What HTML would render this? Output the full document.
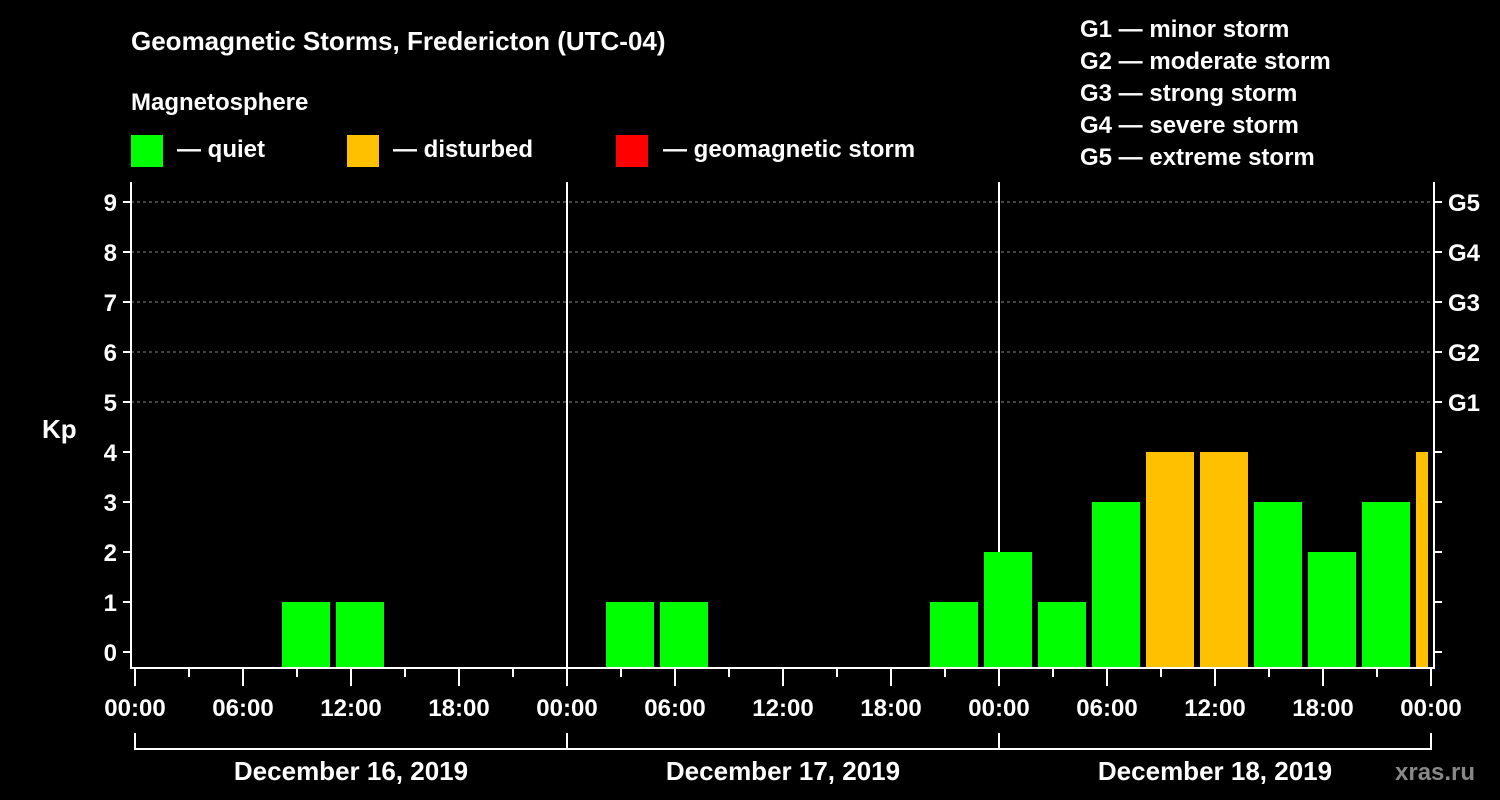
<!DOCTYPE html>
<html><head><meta charset="utf-8"><style>
body{margin:0;background:#000;}
svg{display:block;font-family:"Liberation Sans",Arial,sans-serif;font-weight:bold;}
</style></head><body>
<svg id="chart" width="1500" height="800" viewBox="0 0 1500 800" xmlns="http://www.w3.org/2000/svg">
<rect width="1500" height="800" fill="#000"/>
<text x="131" y="50" fill="#fff" font-size="26">Geomagnetic Storms, Fredericton (UTC-04)</text>
<text x="131" y="110" fill="#fff" font-size="24">Magnetosphere</text>
<g><rect x="131" y="135" width="32" height="32" fill="#00ff00"/><text x="177" y="157" fill="#fff" font-size="24">— quiet</text></g>
<g><rect x="347" y="135" width="32" height="32" fill="#ffc000"/><text x="393" y="157" fill="#fff" font-size="24">— disturbed</text></g>
<g><rect x="616" y="135" width="32" height="32" fill="#ff0000"/><text x="663" y="157" fill="#fff" font-size="24">— geomagnetic storm</text></g>
<g fill="#fff" font-size="24">
<text x="1080" y="37">G1 — minor storm</text>
<text x="1080" y="69">G2 — moderate storm</text>
<text x="1080" y="101">G3 — strong storm</text>
<text x="1080" y="133">G4 — severe storm</text>
<text x="1080" y="165">G5 — extreme storm</text>
</g>
<text x="42" y="438" fill="#fff" font-size="26">Kp</text>
<g id="grid"></g><g id="bars"></g><g id="axes"></g>
<text x="1395" y="780" fill="#888" font-size="24">xras.ru</text>
</svg>
<script>
const days = ["December 16, 2019","December 17, 2019","December 18, 2019"];
const slotStartHours = [-1,2,5,8,11,14,17,20,23,26,29,32,35,38,41,44,47,50,53,56,59,62,65,68,71];
const kpValues = [0,0,0,1,1,0,0,0,0,1,1,0,0,0,0,1,2,1,3,4,4,3,2,3,4];
const kpTicks = [0,1,2,3,4,5,6,7,8,9];
const gLabels = [[5,"G1"],[6,"G2"],[7,"G3"],[8,"G4"],[9,"G5"]];
const timeLabels = ["00:00","06:00","12:00","18:00"];
const NS="http://www.w3.org/2000/svg";
const X0=135, PXH=18, Y0=652, PXK=50, TOP=182, BOT=668, LEFT=131, RIGHT=1434, TOTALH=72;
const xs=h=>X0+h*PXH, ys=k=>Y0-k*PXK;
function mk(tag,attrs,parent,text){const e=document.createElementNS(NS,tag);for(const k in attrs)e.setAttribute(k,attrs[k]);if(text!==undefined)e.textContent=text;parent.appendChild(e);return e;}
const grid=document.getElementById('grid'),bars=document.getElementById('bars'),axes=document.getElementById('axes');
gLabels.forEach(g=>{const l=mk('line',{x1:LEFT,x2:RIGHT,y1:ys(g[0]),y2:ys(g[0]),stroke:'#888','stroke-dasharray':'3,3','stroke-width':1},grid);

});
for(let d=1;d<days.length;d++){const l=mk('line',{x1:xs(d*24),x2:xs(d*24),y1:TOP,y2:BOT,stroke:'#fff','stroke-width':2},grid);

}
kpValues.forEach((v,i)=>{if(!v)return;
let a=Math.max(0,slotStartHours[i]),b=Math.min(TOTALH,slotStartHours[i]+3);
let x1=xs(a)+3,x2=Math.min(xs(b)-3,xs(TOTALH)-2);
const r=mk('rect',{x:x1,y:ys(v),width:Math.max(1,x2-x1),height:BOT-ys(v),fill:v>=5?'#ff0000':(v>=4?'#ffc000':'#00ff00')},bars);

});
const frame=mk('path',{d:`M${LEFT} ${TOP}V${BOT}H${RIGHT}V${TOP}`,stroke:'#fff','stroke-width':2,fill:'none'},axes);


kpTicks.forEach(k=>{mk('line',{x1:LEFT-8,x2:LEFT,y1:ys(k),y2:ys(k),stroke:'#fff','stroke-width':2},axes);
mk('line',{x1:RIGHT,x2:RIGHT+8,y1:ys(k),y2:ys(k),stroke:'#fff','stroke-width':2},axes);
const t=mk('text',{x:LEFT-14,y:ys(k)+9,fill:'#fff','font-size':24,'text-anchor':'end'},axes,String(k));

});
gLabels.forEach(g=>{const t=mk('text',{x:1448,y:ys(g[0])+9,fill:'#fff','font-size':24},axes,g[1]);

});
for(let h=0;h<=TOTALH;h+=3){const major=h%6===0;
mk('line',{x1:xs(h),x2:xs(h),y1:BOT,y2:BOT+(major?18:9),stroke:'#fff','stroke-width':2},axes);
if(major){const t=mk('text',{x:xs(h),y:716,fill:'#fff','font-size':24,'text-anchor':'middle'},axes,timeLabels[(h%24)/6]);

}}
days.forEach((d,i)=>{const a=xs(i*24),b=xs((i+1)*24);
mk('path',{d:`M${a} 733V749H${b}V733`,stroke:'#fff','stroke-width':2,fill:'none'},axes);
const t=mk('text',{x:(a+b)/2,y:780,fill:'#fff','font-size':26,'text-anchor':'middle'},axes,d);

});
</script>
</body></html>
